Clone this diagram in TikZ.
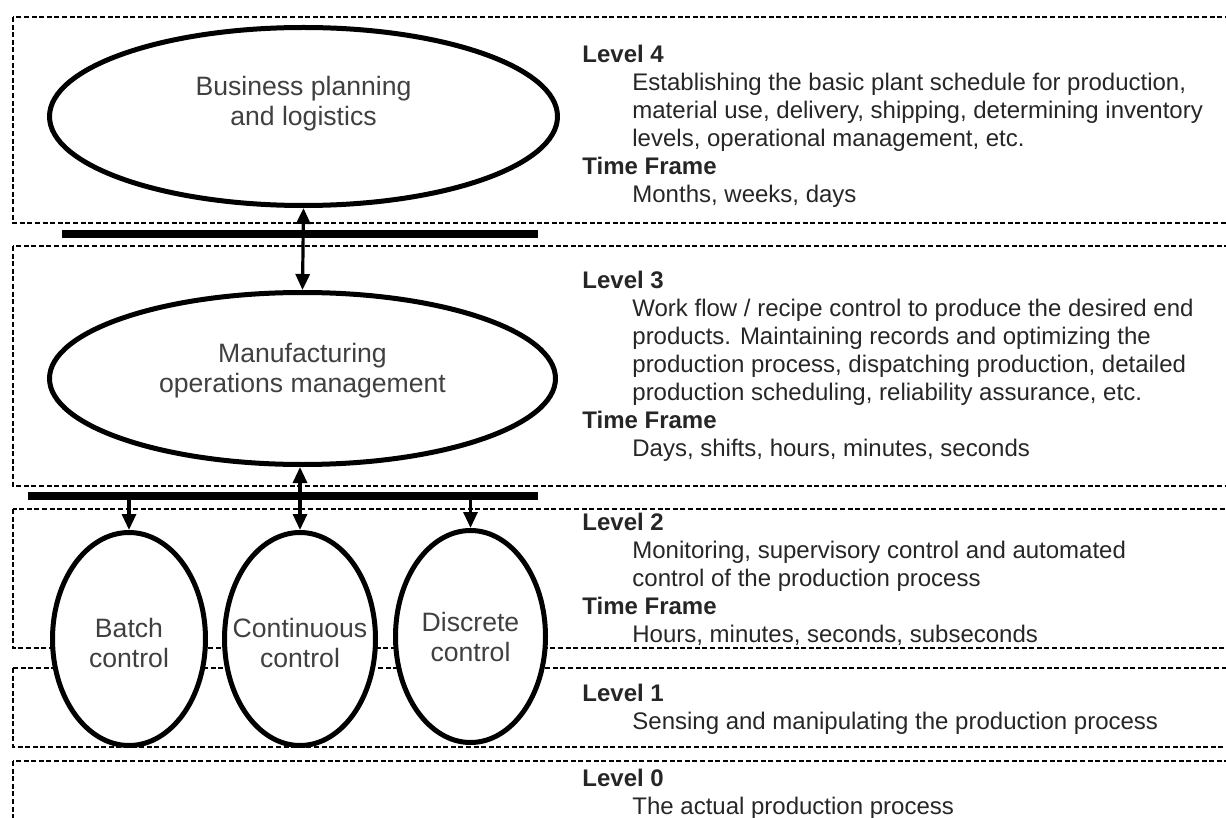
\documentclass[tikz,border=0pt]{standalone}
\usepackage{fontspec}
\setmainfont{Liberation Sans}
\usetikzlibrary{shapes.geometric, arrows.meta}
\tikzset{
	x=0.5pt, y=-0.5pt, % one unit is one pixel of the sketch, y runs downwards
	>={Triangle[length=8pt, width=7pt]}, % filled arrow heads
	levelbox/.style={draw, line width=0.9pt, dash pattern=on 2.5pt off 1.3pt}, % the dashed frame of each level
	unit/.style={ellipse, draw, fill=white, line width=2.5pt, inner sep=-12pt, align=center, text=black!75, font=\fontsize{13.3}{15}\selectfont}, % the functions
	bus/.style={fill=black, inner sep=0pt, minimum height=4pt}, % the thick bars between levels
	link/.style={<->, line width=1.6pt}, % two way traffic
	feed/.style={->, line width=1.6pt}, % one way traffic
	info/.style={anchor=north west, align=left, inner sep=0pt, text=black!85, font=\fontsize{12}{14}\selectfont}, % the text on the right
}
\newcommand{\ind}{\hspace*{25pt}}

\begin{document}
\begin{tikzpicture}
	\useasboundingbox (0,0) rectangle (1226,818);
	% levels
	\draw[levelbox] (13,17) rectangle (1240,223);
	\draw[levelbox] (13,246) rectangle (1240,486);
	\draw[levelbox] (13,509) rectangle (1240,648);
	\draw[levelbox] (13,668) rectangle (1240,747);
	\draw[levelbox] (13,761) rectangle (1240,830);
	% functions
	\node[unit, minimum width=254pt, minimum height=89pt, text depth=16pt] at (303.5,116.5) (bpl) {Business planning\\and logistics};
	\node[unit, minimum width=253pt, minimum height=86pt, text depth=11pt] at (302.5,378.5) (mom) {Manufacturing\\operations management};
	\node[unit, minimum width=76.5pt, minimum height=106.5pt, text height=29pt] at (129,639) (batch) {Batch\\control};
	\node[unit, minimum width=75.5pt, minimum height=106.5pt, text height=29pt] at (300,639) (cont) {Continuous\\control};
	\node[unit, minimum width=75pt, minimum height=106pt] at (470.5,636.5) (disc) {Discrete\\control};
	\node[bus, minimum width=238pt] at (300,234) (bus34) {};
	\node[bus, minimum width=255pt] at (283,496) (bus23) {};
	\draw	(bpl.south) edge[link] (mom.north)
			(cont.north |- mom.south) edge[link] (cont.north)
			(bus23.south -| batch.north) edge[feed] (batch.north)
			(bus23.south -| disc.north) edge[feed] (disc.north);
	% descriptions
	\node[info] at (582,45) (t4) {\textbf{Level 4}\\
		\ind Establishing the basic plant schedule for production,\\
		\ind material use, delivery, shipping, determining inventory\\
		\ind levels, operational management, etc.\\
		\textbf{Time Frame}\\
		\ind Months, weeks, days};
	\node[info] at (582,271) (t3) {\textbf{Level 3}\\
		\ind Work flow / recipe control to produce the desired end\\
		\ind products. Maintaining records and optimizing the\\
		\ind production process, dispatching production, detailed\\
		\ind production scheduling, reliability assurance, etc.\\
		\textbf{Time Frame}\\
		\ind Days, shifts, hours, minutes, seconds};
	\node[info] at (582,513) (t2) {\textbf{Level 2}\\
		\ind Monitoring, supervisory control and automated\\
		\ind control of the production process\\
		\textbf{Time Frame}\\
		\ind Hours, minutes, seconds, subseconds};
	\node[info] at (582,684) (t1) {\textbf{Level 1}\\
		\ind Sensing and manipulating the production process};
	\node[info] at (582,769) (t0) {\textbf{Level 0}\\
		\ind The actual production process};
\end{tikzpicture}
\end{document}
